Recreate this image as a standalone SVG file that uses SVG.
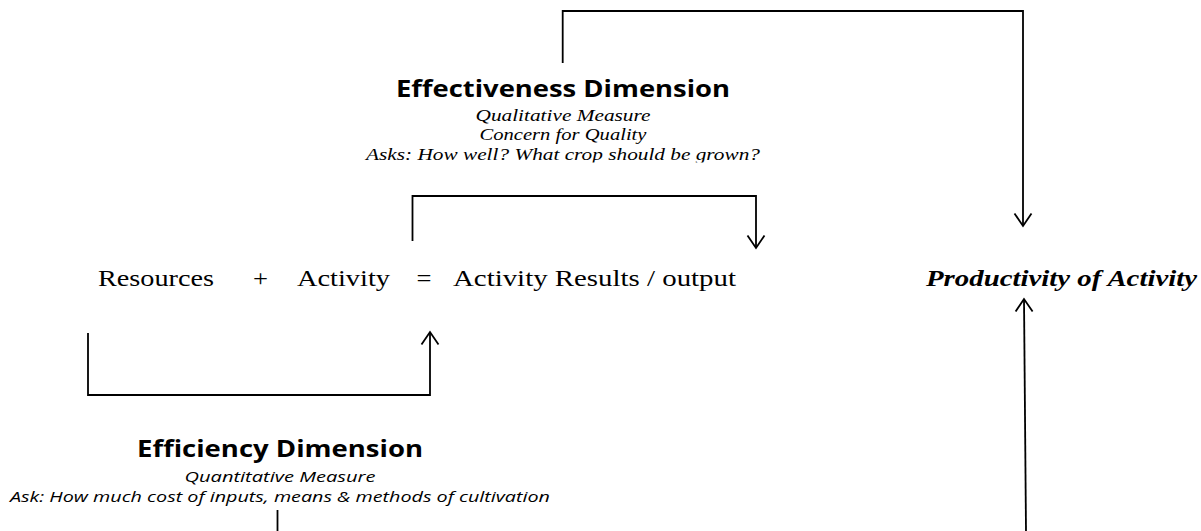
<svg xmlns="http://www.w3.org/2000/svg" width="1201" height="531" viewBox="0 0 1201 531">
  <style>
    .title { font-family: "Open Sans", "Liberation Sans", sans-serif; font-weight: 700; font-size: 24px; fill: #000; text-anchor: middle; }
    .serif-it { font-family: "Liberation Serif", "Times New Roman", serif; font-style: italic; font-size: 17px; fill: #000; text-anchor: middle; }
    .sans-it { font-family: "Open Sans", "Liberation Sans", sans-serif; font-style: italic; font-size: 14px; fill: #000; text-anchor: middle; }
    .eq { font-family: "Liberation Serif", "Times New Roman", serif; font-size: 23px; fill: #000; }
    .result { font-family: "Liberation Serif", "Times New Roman", serif; font-style: italic; font-weight: 700; font-size: 23px; fill: #000; }
    .link { fill: none; stroke: #000; stroke-width: 1.8; }
  </style>
  <defs>
    <marker id="open-arrow" markerUnits="userSpaceOnUse" markerWidth="30" markerHeight="30" refX="0" refY="0" viewBox="-15 -15 30 30" orient="auto" overflow="visible">
      <path d="M-12.5,-8.5 L0,0 L-12.5,8.5" fill="none" stroke="#000" stroke-width="1.8"/>
    </marker>
    <!-- the last caption line sits in a box that trims its descenders -->
    <clipPath id="box-bottom">
      <rect x="300" y="140" width="520" height="22.5"/>
    </clipPath>
  </defs>

  <rect width="1201" height="531" fill="#fff"/>

  <!-- connectors -->
  <g id="connectors">
    <path class="link" d="M562.7,63 V11 H1023 V226" marker-end="url(#open-arrow)"/>
    <path class="link" d="M412.5,241 V196 H756 V248" marker-end="url(#open-arrow)"/>
    <path class="link" d="M88,333 V395 H430 V332" marker-end="url(#open-arrow)"/>
    <path class="link" d="M1026,531 L1024,299" marker-end="url(#open-arrow)"/>
    <path class="link" d="M277.5,510 V531"/>
  </g>

  <!-- effectiveness dimension -->
  <g id="node-effectiveness">
    <text class="title" x="563" y="96.5" textLength="334" lengthAdjust="spacingAndGlyphs">Effectiveness Dimension</text>
    <text class="serif-it" x="563" y="120.5" textLength="175" lengthAdjust="spacingAndGlyphs">Qualitative Measure</text>
    <text class="serif-it" x="563" y="140" textLength="167" lengthAdjust="spacingAndGlyphs">Concern for Quality</text>
    <text class="serif-it" x="563" y="160" textLength="394" lengthAdjust="spacingAndGlyphs" clip-path="url(#box-bottom)">Asks: How well? What crop should be grown?</text>
  </g>

  <!-- equation row -->
  <g id="node-resources">
    <text class="eq" x="98" y="286" textLength="116" lengthAdjust="spacingAndGlyphs">Resources</text>
  </g>
  <g id="node-plus">
    <text class="eq" x="260.5" y="286" text-anchor="middle" textLength="15" lengthAdjust="spacingAndGlyphs">+</text>
  </g>
  <g id="node-activity">
    <text class="eq" x="297" y="286" textLength="93" lengthAdjust="spacingAndGlyphs">Activity</text>
  </g>
  <g id="node-equals">
    <text class="eq" x="424" y="286" text-anchor="middle" textLength="15" lengthAdjust="spacingAndGlyphs">=</text>
  </g>
  <g id="node-results">
    <text class="eq" x="453" y="286" textLength="283" lengthAdjust="spacingAndGlyphs">Activity Results / output</text>
  </g>

  <!-- productivity -->
  <g id="node-productivity">
    <text class="result" x="926" y="285.5" textLength="271" lengthAdjust="spacingAndGlyphs">Productivity of Activity</text>
  </g>

  <!-- efficiency dimension -->
  <g id="node-efficiency">
    <text class="title" x="280" y="456.5" textLength="286" lengthAdjust="spacingAndGlyphs">Efficiency Dimension</text>
    <text class="sans-it" x="280" y="481.5" textLength="191" lengthAdjust="spacingAndGlyphs">Quantitative Measure</text>
    <text class="sans-it" x="280" y="501.5" textLength="540" lengthAdjust="spacingAndGlyphs">Ask: How much cost of inputs, means &amp; methods of cultivation</text>
  </g>
</svg>
